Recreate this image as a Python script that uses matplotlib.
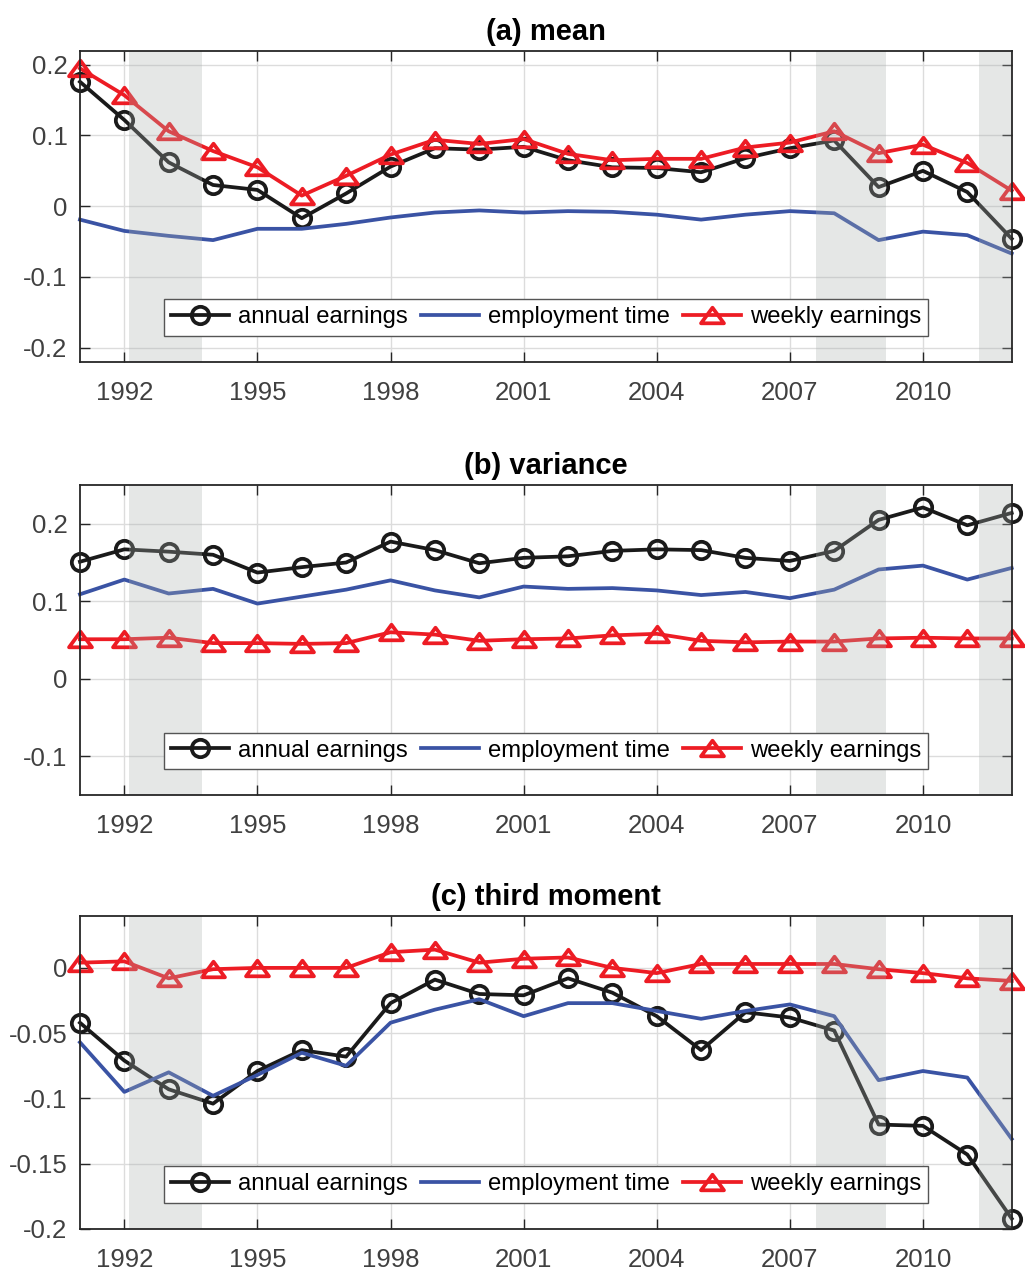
import matplotlib
matplotlib.use("Agg")
import matplotlib.pyplot as plt
import numpy as np
from matplotlib.path import Path

plt.rcParams['font.family'] = ['Liberation Sans', 'DejaVu Sans']

years = list(range(1991, 2013))

mean_annual = [0.176, 0.122, 0.062, 0.030, 0.023, -0.017, 0.018, 0.056, 0.082, 0.080,
               0.084, 0.065, 0.055, 0.054, 0.048, 0.068, 0.082, 0.093, 0.027, 0.050,
               0.020, -0.046]
mean_employment = [-0.019, -0.035, -0.042, -0.048, -0.032, -0.032, -0.025, -0.016, -0.009, -0.006,
                   -0.009, -0.007, -0.008, -0.012, -0.019, -0.012, -0.007, -0.010, -0.048, -0.036,
                   -0.041, -0.067]
mean_weekly = [0.195, 0.157, 0.106, 0.078, 0.055, 0.015, 0.043, 0.073, 0.094, 0.088,
               0.095, 0.074, 0.065, 0.067, 0.067, 0.083, 0.090, 0.106, 0.075, 0.087,
               0.061, 0.022]

var_annual = [0.151, 0.167, 0.164, 0.160, 0.137, 0.144, 0.150, 0.177, 0.166, 0.149,
              0.156, 0.158, 0.165, 0.167, 0.166, 0.156, 0.152, 0.165, 0.205, 0.221,
              0.198, 0.214]
var_employment = [0.109, 0.128, 0.110, 0.116, 0.097, 0.106, 0.115, 0.127, 0.114, 0.105,
                  0.119, 0.116, 0.117, 0.114, 0.108, 0.112, 0.104, 0.115, 0.141, 0.146,
                  0.128, 0.143]
var_weekly = [0.051, 0.051, 0.053, 0.046, 0.046, 0.045, 0.046, 0.060, 0.057, 0.049,
              0.051, 0.052, 0.056, 0.058, 0.049, 0.047, 0.048, 0.048, 0.052, 0.053,
              0.052, 0.052]

third_annual = [-0.042, -0.071, -0.093, -0.104, -0.079, -0.063, -0.068, -0.027, -0.009, -0.020,
                -0.021, -0.008, -0.019, -0.037, -0.063, -0.034, -0.038, -0.048, -0.120, -0.121,
                -0.143, -0.192]
third_employment = [-0.057, -0.095, -0.080, -0.098, -0.082, -0.065, -0.075, -0.042, -0.032, -0.024,
                    -0.037, -0.027, -0.027, -0.033, -0.039, -0.033, -0.028, -0.037, -0.086, -0.079,
                    -0.084, -0.131]
third_weekly = [0.004, 0.005, -0.008, -0.001, 0.000, 0.000, 0.000, 0.012, 0.014, 0.004,
                0.007, 0.008, 0.000, -0.004, 0.003, 0.003, 0.003, 0.003, -0.001, -0.004,
                -0.008, -0.010]

recessions = [(1992.1, 1993.75), (2007.6, 2009.17), (2011.26, 2012.0)]

titles = ['(a) mean', '(b) variance', '(c) third moment']
ylims = [(-0.22, 0.22), (-0.15, 0.25), (-0.2, 0.04)]
yticks = [[-0.2, -0.1, 0, 0.1, 0.2], [-0.1, 0, 0.1, 0.2], [-0.2, -0.15, -0.1, -0.05, 0]]
ytick_labels = [['-0.2', '-0.1', '0', '0.1', '0.2'], ['-0.1', '0', '0.1', '0.2'],
                ['-0.2', '-0.15', '-0.1', '-0.05', '0']]
xticks = [1992, 1995, 1998, 2001, 2004, 2007, 2010]
series = [(mean_annual, mean_employment, mean_weekly),
          (var_annual, var_employment, var_weekly),
          (third_annual, third_employment, third_weekly)]

tri = Path([(-1, -0.68), (1, -0.68), (0, 0.68), (-1, -0.68)],
           [Path.MOVETO, Path.LINETO, Path.LINETO, Path.CLOSEPOLY])

black = '#1a1a1a'
blue = '#3a53a4'
red = '#ed1c24'
axcol = '#262626'
tickcol = '#404040'

fig = plt.figure(figsize=(10.25, 12.7), dpi=100)
positions = [(0.078, 0.7152, 0.909, 0.2449),
             (0.078, 0.374, 0.909, 0.2441),
             (0.078, 0.0323, 0.909, 0.2467)]

for i, pos in enumerate(positions):
    ax = fig.add_axes(pos)
    ann, emp, wk = series[i]
    ax.plot(years, ann, color=black, lw=2.7, marker='o', ms=12.5, mfc='none', mew=2.7,
            label='annual earnings', zorder=3, clip_on=False)
    ax.plot(years, emp, color=blue, lw=2.7, label='employment time', zorder=3, clip_on=False)
    ax.plot(years, wk, color=red, lw=2.7, marker=tri, ms=16.5, mfc='none', mew=2.7,
            label='weekly earnings', zorder=3, clip_on=False)
    for a, b in recessions:
        ax.axvspan(a, b, color='#a9b0ae', alpha=0.3, lw=0, zorder=4)
    ax.set_xlim(1991, 2012)
    ax.set_ylim(*ylims[i])
    ax.set_xticks(xticks)
    ax.set_xticklabels([str(x) for x in xticks])
    ax.set_yticks(yticks[i])
    ax.set_yticklabels(ytick_labels[i])
    ax.grid(True, color='#dcdcdc', lw=1.0, zorder=0)
    ax.set_axisbelow(True)
    ax.tick_params(direction='in', length=7, width=1.0, colors=axcol, labelcolor=tickcol,
                   labelsize=18.5, top=True, right=True)
    ax.tick_params(axis='x', pad=14)
    ax.tick_params(axis='y', pad=9)
    for s in ax.spines.values():
        s.set_color(axcol)
        s.set_linewidth(1.3)
        s.set_zorder(6)
    ax.set_title(titles[i], fontsize=21, fontweight='bold', pad=8)
    leg = ax.legend(loc='lower left', bbox_to_anchor=(0.090, 0.084), ncol=3, fontsize=17.2,
                    frameon=True, fancybox=False, edgecolor='#555555', framealpha=1,
                    borderaxespad=0, handlelength=2.45, handletextpad=0.35, columnspacing=0.55,
                    borderpad=0.3)
    leg.get_frame().set_linewidth(1.0)
    leg.set_zorder(7)

fig.savefig('out.png', dpi=100)
